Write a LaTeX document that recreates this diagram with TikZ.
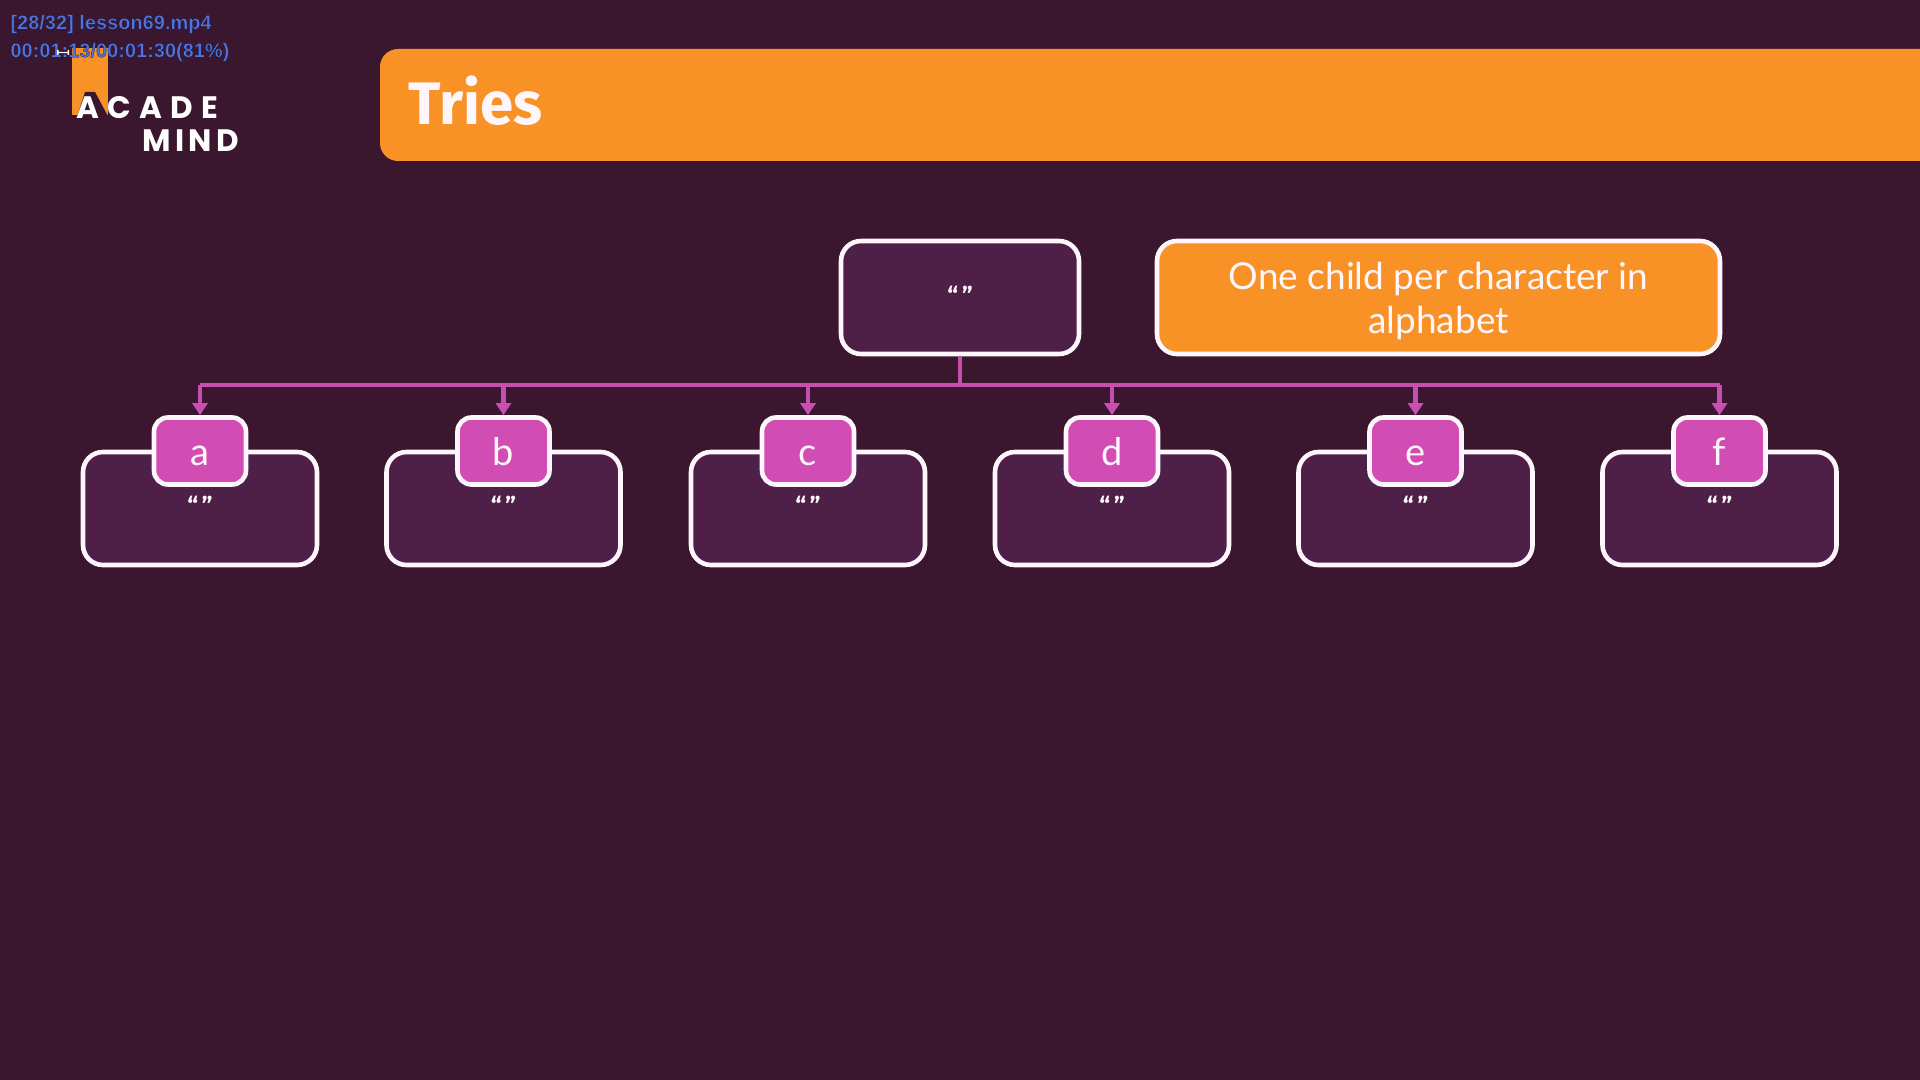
\documentclass[tikz,border=0pt]{standalone}
\usepackage{fontspec}
\usetikzlibrary{arrows.meta}
\setmainfont{Lato}
\newfontfamily\titlefont{Fira Sans}
\newfontfamily\logofont[LetterSpace=27]{Poppins}
\newfontfamily\logofontb[LetterSpace=14]{Poppins}
\newfontfamily\osdfont{Liberation Sans}
\definecolor{bgc}{HTML}{3A172F}
\definecolor{boxc}{HTML}{4E2048}
\definecolor{orangec}{HTML}{F99226}
\definecolor{pinkc}{HTML}{D14DB3}
\definecolor{linec}{HTML}{C64FB0}
\definecolor{osdc}{HTML}{5072DC}
\definecolor{whitec}{HTML}{FFF6FC}
\tikzset{
  trienode/.style={draw=whitec,line width=2.3pt,fill=boxc,rounded corners=10pt,inner sep=0pt},
  childbox/.style={trienode,minimum width=117pt,minimum height=56.5pt},
  rootbox/.style={trienode,minimum width=119pt,minimum height=56.5pt},
  notebox/.style={trienode,fill=orangec,minimum width=281.5pt,minimum height=56.5pt,align=center,text=whitec,
     font=\fontsize{18.5}{22}\selectfont},
  letterbox/.style={draw=whitec,line width=2.3pt,fill=pinkc,rounded corners=7pt,minimum width=46pt,minimum height=33.5pt,
     inner sep=0pt,text=whitec,text height=14pt,text depth=0pt,font=\fontsize{19}{20}\selectfont},
  quotes/.style={inner sep=0pt,text=whitec,font=\titlefont\bfseries\fontsize{12}{12}\selectfont},
  busline/.style={draw=linec,line width=2.4pt},
  feed/.style={busline,-{Triangle[width=7.5pt,length=6pt]}},
  osd/.style={inner sep=0pt,anchor=west,text=osdc,font=\osdfont\bfseries\fontsize{10}{11}\selectfont},
  logotext/.style={inner sep=0pt,text=white,anchor=base west}
}
\newcommand{\osdstroke}{\special{pdf:code 2 Tr 0.12 w 0.06 0.06 0.16 RG}}
\newcommand{\osdplain}{\special{pdf:code 0 Tr}}
\newcommand{\qq}{“\kern2pt”}
\begin{document}
\begin{tikzpicture}[x=0.5pt,y=-0.5pt]
\useasboundingbox (0,0) rectangle (1920,1080);
\fill[bgc] (0,0) rectangle (1920,1080);
% title bar
\begin{scope}
\clip (0,0) rectangle (1920,1080);
\fill[orangec,rounded corners=9pt] (1960,49) -- (380,49) -- (380,161) -- (1960,161) -- cycle;
\end{scope}
\node[inner sep=0pt,anchor=base west,text=whitec,font=\titlefont\bfseries\fontsize{30}{32}\selectfont] (title) at (408,125) {Tries};
% logo
\fill[orangec] (72,48) rectangle (108,115);
\fill[bgc] (85,92) -- (95,92) -- (110,120) -- (76,120) -- cycle;
\node[logotext,font=\logofont\bfseries\fontsize{15.5}{16}\selectfont] (acade) at (76,119) {ACADE};
\node[logotext,font=\logofontb\bfseries\fontsize{15.5}{16}\selectfont] (mind) at (142,152) {MIND};
% root and note
\node[rootbox] (root) at (960,297.5) {};
\node[quotes] (rootq) at (960,295) {\qq};
\node[notebox] (note) at (1438.5,297.5) {\rule{0pt}{17.5pt}One child per character in\\alphabet};
% children
\coordinate (bus) at (960,385);
\foreach \nm/\cx/\ltr in {a/200/a,b/503.5/b,c/808/c,d/1112/d,e/1415.5/e,f/1719.5/f}{
  \node[childbox] (box\nm) at (\cx,508.5) {};
  \node[letterbox] (let\nm) at (\cx,451) {\ltr};
  \node[quotes] (q\nm) at (\cx,505) {\qq};
}
% connectors
\draw[busline] (root.south) -- (bus);
\draw[busline,line join=miter] (leta.north |- bus) -- (letf.north |- bus);
\foreach \nm in {a,b,c,d,e,f}{
  \draw[feed] (let\nm.north |- bus) -- (let\nm.north);
}
% overlay
\node[osd] (osdone) at (10,24) {\osdstroke[28/32] lesson69.mp4\osdplain};
\node[osd] (osdtwo) at (10,52) {\osdstroke 00:01:13/00:01:30(81\%)\osdplain};
\fill[white] (57,50) rectangle (58.5,55) (58,51.8) rectangle (68,53.2) (67.5,50) rectangle (69,55);
\end{tikzpicture}
\end{document}
